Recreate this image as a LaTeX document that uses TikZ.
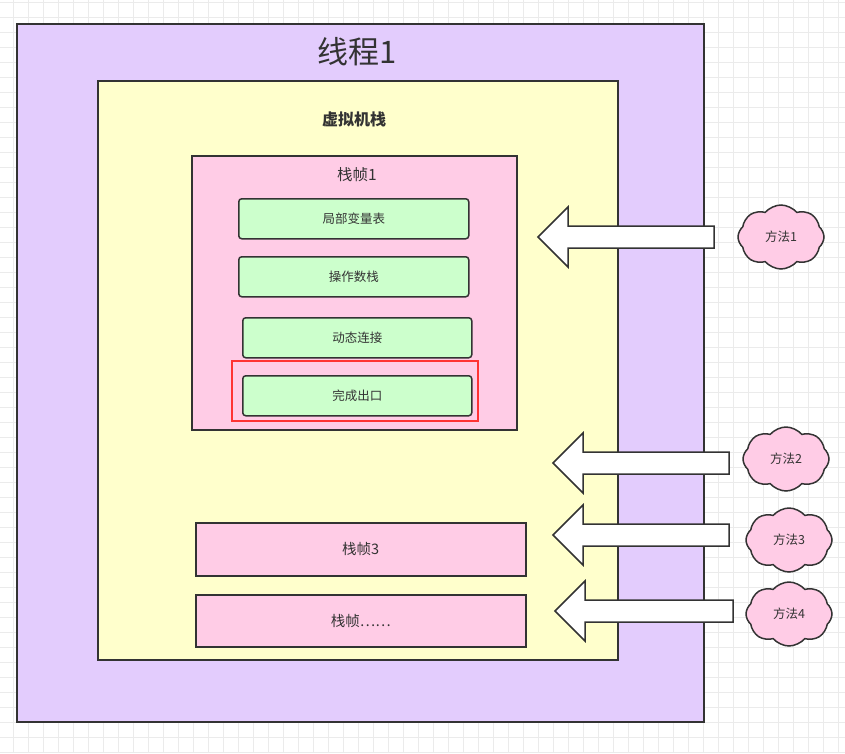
\documentclass[tikz,border=0pt]{standalone}
\usepackage{fontspec}
\setmainfont{Noto Sans CJK SC}
\usetikzlibrary{shapes.symbols,positioning}
\definecolor{threadfill}{HTML}{E3CCFD}
\definecolor{stackfill}{HTML}{FFFFCC}
\definecolor{framefill}{HTML}{FFCCE6}
\definecolor{slotfill}{HTML}{CCFFCC}
\definecolor{edge}{HTML}{333333}
\definecolor{hilite}{HTML}{FF3333}
\definecolor{gridline}{HTML}{EBEBEB}
\tikzset{
  box/.style={draw=edge,line width=1.5pt,inner sep=0pt,anchor=north west},
  slot/.style={box,fill=slotfill,rounded corners=3pt,minimum height=40pt,
    font=\fontsize{12.5}{14}\selectfont,text=edge},
  framebox/.style={box,fill=framefill,font=\fontsize{14.5}{16}\selectfont,text=edge},
  method/.style={cloud,cloud puffs=8,cloud puff arc=100,aspect=1.3,draw=edge,
    line width=1.5pt,fill=framefill,inner sep=0pt,minimum width=86pt,minimum height=64pt,
    font=\fontsize{12.5}{14}\selectfont,text=edge},
  blockarrow/.style={draw=edge,line width=1.5pt,fill=white,line join=miter}
}
\begin{document}
\begin{tikzpicture}[x=1pt,y=-1pt]
  \useasboundingbox (0,0) rectangle (845,753);
  % background grid
  \foreach \gx in {13,28,...,845} \draw[gridline,line width=0.8pt] (\gx,0)--(\gx,753);
  \foreach \gy in {2,17,...,753} \draw[gridline,line width=0.8pt] (0,\gy)--(845,\gy);

  % thread and stack
  \node[box,fill=threadfill,minimum width=687pt,minimum height=698pt] (thread) at (16,23) {};
  \node[text=edge,font=\fontsize{31}{34}\selectfont] at (357,52) {线程1};
  \node[box,fill=stackfill,minimum width=520pt,minimum height=579pt] (jvmstack) at (97,80) {};
  \node[text=edge,font=\fontsize{16}{18}\selectfont\bfseries] at (354,119) {虚拟机栈};

  % frame 1
  \node[box,fill=framefill,minimum width=325pt,minimum height=274pt] (frame1) at (191,155) {};
  \node[text=edge,font=\fontsize{15.5}{17}\selectfont] at (357,175) {栈帧1};
  \node[slot,minimum width=230pt] (lvt) at (238,198) {局部变量表};
  \node[slot,minimum width=230pt] (opstack) at (238,256) {操作数栈};
  \node[slot,minimum width=229pt] (dynlink) at (242,317) {动态连接};
  \node[slot,minimum width=229pt] (retaddr) at (242,375) {完成出口};
  \draw[hilite,line width=2.5pt] (232,361) rectangle (478,421);

  % other frames
  \node[framebox,minimum width=330pt,minimum height=53pt] (frame3) at (195,522) {栈帧3};
  \node[framebox,minimum width=330pt,minimum height=52pt] (framen) at (195,594) {栈帧……};

  % methods
  \node[method] (m1) at (781,237) {方法1};
  \node[method] (m2) at (786,459) {方法2};
  \node[method] (m3) at (789,540) {方法3};
  \node[method] (m4) at (789,614) {方法4};

  % arrows into the stack
  \draw[blockarrow] (714,226)--(568,226)--(568,207)--(538,237)--(568,267)--(568,248)--(714,248)--cycle;
  \draw[blockarrow] (729,452)--(583,452)--(583,433)--(553,463)--(583,493)--(583,474)--(729,474)--cycle;
  \draw[blockarrow] (729,524)--(583,524)--(583,505)--(553,535)--(583,565)--(583,546)--(729,546)--cycle;
  \draw[blockarrow] (733,600)--(585,600)--(585,581)--(555,611)--(585,641)--(585,622)--(733,622)--cycle;
\end{tikzpicture}
\end{document}
